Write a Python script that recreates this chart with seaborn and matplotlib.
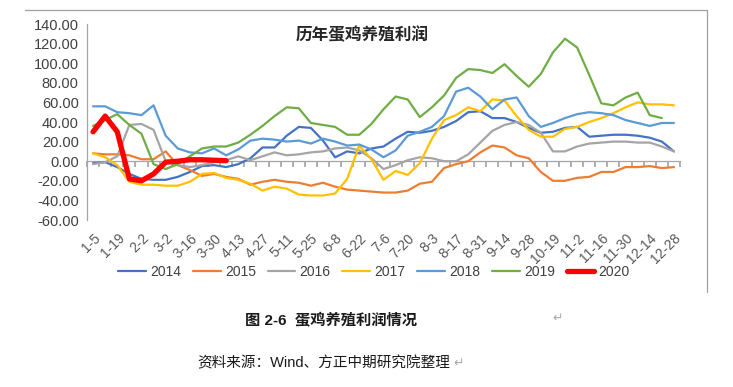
import numpy as np
import pandas as pd
import seaborn as sns
import matplotlib.pyplot as plt
from matplotlib.lines import Line2D

# 周次（春节、国庆期间缺省）
weeks = ['1-5', '1-12', '1-19', '1-26', '2-2', '2-23', '3-2', '3-9', '3-16', '3-23',
         '3-30', '4-6', '4-13', '4-20', '4-27', '5-4', '5-11', '5-18', '5-25', '6-1',
         '6-8', '6-15', '6-22', '6-29', '7-6', '7-13', '7-20', '7-27', '8-3', '8-10',
         '8-17', '8-24', '8-31', '9-7', '9-14', '9-21', '9-28', '10-12', '10-19', '10-26',
         '11-2', '11-9', '11-16', '11-23', '11-30', '12-7', '12-14', '12-21', '12-28']

y2014 = [-2, -1, -6, -13, -18, -19, -19, -16, -11, -5, -4, -6, -3, 3, 14, 14, 26, 35, 34, 21,
         4, 10, 8, 13, 15, 23, 30, 29, 31, 35, 41, 50, 51, 44, 44, 40, 34, 29, 30, 34,
         35, 25, 26, 27, 27, 26, 24, 20, 10]
y2015 = [8, 7, 7, 6, 2, 2, 10, -4, -9, -15, -13, -16, -18, -24, -21, -19, -21, -22, -25, -22,
         -26, -29, -30, -31, -32, -32, -30, -23, -21, -7, -3, 0, 9, 16, 14, 6, 3, -11, -20, -20,
         -17, -16, -11, -11, -6, -6, -5, -7, -6]
y2016 = [-3, -1, 5, 37, 38, 32, 0, -4, -6, -4, -1, 1, 5, 1, 5, 9, 6, 7, 9, 10,
         13, 14, 11, 3, -8, -4, 1, 4, 3, 0, 0, 7, 19, 31, 37, 40, 37, 29, 10, 10,
         15, 18, 19, 20, 20, 19, 19, 15, 10]
y2017 = [8, 4, -4, -21, -24, -24, -25, -25, -21, -13, -12, -17, -19, -23, -30, -26, -28, -34, -35, -35,
         -33, -18, 16, 2, -19, -10, -14, -2, 23, 42, 47, 55, 51, 63, 62, 46, 32, 25, 25, 33,
         35, 40, 44, 49, 55, 60, 58, 58, 57]
y2018 = [56, 56, 50, 49, 47, 57, 26, 13, 9, 8, 13, 6, 12, 21, 23, 22, 20, 21, 18, 23,
         20, 16, 17, 12, 4, 11, 26, 30, 35, 46, 71, 75, 66, 53, 63, 65, 46, 35, 39, 44,
         48, 50, 49, 47, 42, 39, 36, 39, 39]
y2019 = [36, 42, 48, 37, 28, -3, -8, -3, 5, 13, 15, 15, 19, 27, 36, 46, 55, 54, 39, 37,
         35, 27, 27, 38, 53, 66, 63, 45, 55, 67, 85, 94, 93, 90, 99, 87, 76, 89, 111, 125,
         116, 88, 59, 57, 65, 70, 47, 44]
y2020 = [30, 46, 30, -18, -20, -13, -1, 0, 1.5, 1.5, 1, 0.5]

years = ['2014', '2015', '2016', '2017', '2018', '2019', '2020']
series = [y2014, y2015, y2016, y2017, y2018, y2019, y2020]
colors = ['#4472C4', '#ED7D31', '#A5A5A5', '#FFC000', '#5B9BD5', '#70AD47', '#FF0000']

sns.set_theme(style='white')
plt.rcParams['font.family'] = ['Liberation Sans', 'Noto Sans CJK SC', 'DejaVu Sans']

fig = plt.figure(figsize=(7.33, 3.87), dpi=100)
ax = fig.add_axes([87 / 733, 1 - 220 / 387, 593 / 733, 196 / 387])

for yr, vals, c in zip(years, series, colors):
    d = pd.DataFrame({'idx': np.arange(len(vals)), 'profit': vals})
    sns.lineplot(data=d, x='idx', y='profit', ax=ax, color=c, estimator=None,
                 lw=3.8 if yr == '2020' else 1.6, label=yr, legend=False)

ax.set_xlim(-0.5, len(weeks) - 0.5)
ax.set_ylim(-60, 140)
yt = np.arange(-60, 141, 20)
ax.set_yticks(yt)
ax.set_yticklabels([f'{v:.2f}' for v in yt])
ax.set_xticks(np.arange(0, len(weeks), 2))
ax.set_xticklabels(weeks[::2], rotation=45, ha='right', va='top', rotation_mode='anchor')
ax.set_xlabel('')
ax.set_ylabel('')
ax.tick_params(axis='x', length=0, pad=8, labelsize=10, labelcolor='#595959')
ax.tick_params(axis='y', length=4, direction='out', color='#A6A6A6', pad=2,
               labelsize=10.5, labelcolor='#404040')
for s in ['top', 'right', 'bottom']:
    ax.spines[s].set_visible(False)
ax.spines['left'].set_color('#A6A6A6')
ax.spines['left'].set_linewidth(0.9)

# 零轴（带刻度线）
sec = ax.secondary_xaxis(0.3)
sec.set_xticks(np.arange(-0.5, len(weeks), 1))
sec.set_xticklabels([])
sec.tick_params(axis='x', length=4, direction='out', color='#A6A6A6')
sec.spines['bottom'].set_color('#A6A6A6')
sec.spines['bottom'].set_linewidth(0.9)

handles = [Line2D([], [], color=c, lw=3.8 if yr == '2020' else 1.6) for yr, c in zip(years, colors)]
fig.legend(handles, years, loc='center', bbox_to_anchor=(374 / 733, 1 - 272 / 387), ncol=7,
           frameon=False, fontsize=10, handlelength=2.0, handletextpad=0.3,
           columnspacing=0.85, labelcolor='#404040')

fig.text(362 / 733, 1 - 35 / 387, '历年蛋鸡养殖利润', ha='center', va='center',
         fontsize=12, fontweight='bold', color='#262626')

# 图框（上、右）
fig.add_artist(Line2D([25 / 733, 707 / 733], [1 - 10 / 387, 1 - 10 / 387], color='#A0A0A0', lw=0.9))
fig.add_artist(Line2D([707 / 733, 707 / 733], [1 - 10 / 387, 1 - 292 / 387], color='#A0A0A0', lw=0.9))

fig.text(245 / 733, 1 - 321 / 387, '图 2-6  蛋鸡养殖利润情况', ha='left', va='center',
         fontsize=11, fontweight='bold', color='#1a1a1a')
fig.text(552 / 733, 1 - 319 / 387, '↵', ha='left', va='center', fontsize=9, color='#aaaaaa')
fig.text(197 / 733, 1 - 363 / 387, '资料来源：Wind、方正中期研究院整理', ha='left', va='center',
         fontsize=10.5, color='#1a1a1a')
fig.text(453 / 733, 1 - 364 / 387, '↵', ha='left', va='center', fontsize=9, color='#aaaaaa')

fig.savefig('out.png', dpi=100, facecolor='white')
